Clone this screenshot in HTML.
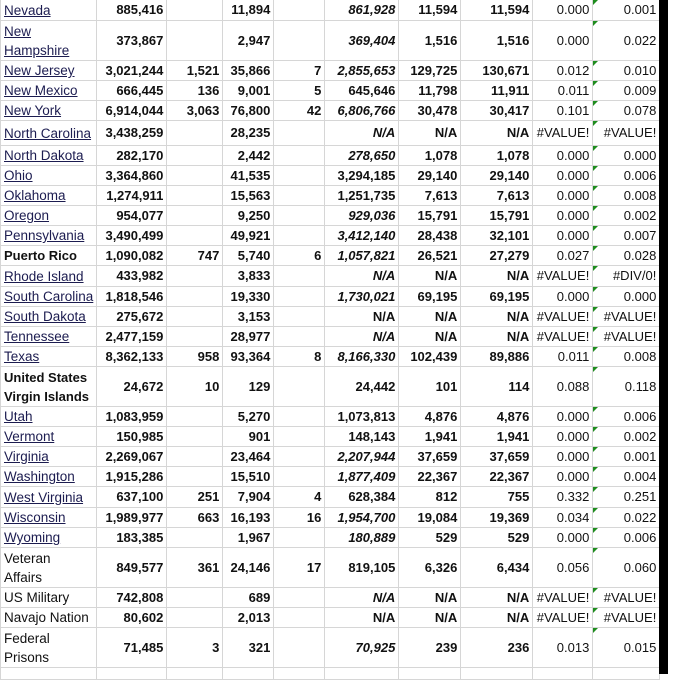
<!DOCTYPE html>
<html><head><style>
body{margin:0;background:#fff;width:682px;height:674px;overflow:hidden;position:relative;font-family:"Liberation Sans",sans-serif;}
table{border-collapse:collapse;table-layout:fixed;position:absolute;left:0;top:-1px;}
td{border:1px solid #d6d6d6;padding:0 3px 0 2px;font-size:13px;line-height:16px;font-weight:bold;text-align:right;white-space:nowrap;overflow:hidden;color:#111;position:relative;}
td.n{text-align:left;font-weight:normal;line-height:19px;padding-left:3px;font-size:13.5px;}
td.n u{color:#1c1c50;text-decoration:underline;}
td.b{text-align:left;font-weight:bold;line-height:19px;padding-left:3px;font-size:13px;}
td.i{font-style:italic;}
td.r{font-weight:normal;font-size:13px;}
td.g::before{content:"";position:absolute;left:0;top:0;border-top:5px solid #1e8c1e;border-right:5px solid transparent;}
.bar{position:absolute;left:659px;top:0;width:9px;height:674px;background:#000;}
</style></head><body>
<table>
<colgroup><col style="width:96px"><col style="width:70px"><col style="width:56px"><col style="width:51px"><col style="width:51px"><col style="width:74px"><col style="width:62px"><col style="width:72px"><col style="width:60px"><col style="width:67px"></colgroup>
<tr style="height:21px"><td class="n"><u>Nevada</u></td><td>885,416</td><td></td><td>11,894</td><td></td><td class="i">861,928</td><td>11,594</td><td>11,594</td><td class="r">0.000</td><td class="r g">0.001</td></tr>
<tr style="height:40px"><td class="n"><u>New </u><br><u>Hampshire</u></td><td>373,867</td><td></td><td>2,947</td><td></td><td class="i">369,404</td><td>1,516</td><td>1,516</td><td class="r">0.000</td><td class="r g">0.022</td></tr>
<tr style="height:20px"><td class="n"><u>New Jersey</u></td><td>3,021,244</td><td>1,521</td><td>35,866</td><td>7</td><td class="i">2,855,653</td><td>129,725</td><td>130,671</td><td class="r">0.012</td><td class="r g">0.010</td></tr>
<tr style="height:20px"><td class="n"><u>New Mexico</u></td><td>666,445</td><td>136</td><td>9,001</td><td>5</td><td>645,646</td><td>11,798</td><td>11,911</td><td class="r">0.011</td><td class="r g">0.009</td></tr>
<tr style="height:20px"><td class="n"><u>New York</u></td><td>6,914,044</td><td>3,063</td><td>76,800</td><td>42</td><td class="i">6,806,766</td><td>30,478</td><td>30,417</td><td class="r">0.101</td><td class="r g">0.078</td></tr>
<tr style="height:25px"><td class="n"><u>North Carolina</u></td><td>3,438,259</td><td></td><td>28,235</td><td></td><td class="i">N/A</td><td>N/A</td><td>N/A</td><td class="r">#VALUE!</td><td class="r g">#VALUE!</td></tr>
<tr style="height:20px"><td class="n"><u>North Dakota</u></td><td>282,170</td><td></td><td>2,442</td><td></td><td class="i">278,650</td><td>1,078</td><td>1,078</td><td class="r">0.000</td><td class="r g">0.000</td></tr>
<tr style="height:20px"><td class="n"><u>Ohio</u></td><td>3,364,860</td><td></td><td>41,535</td><td></td><td>3,294,185</td><td>29,140</td><td>29,140</td><td class="r">0.000</td><td class="r g">0.006</td></tr>
<tr style="height:20px"><td class="n"><u>Oklahoma</u></td><td>1,274,911</td><td></td><td>15,563</td><td></td><td>1,251,735</td><td>7,613</td><td>7,613</td><td class="r">0.000</td><td class="r g">0.008</td></tr>
<tr style="height:20px"><td class="n"><u>Oregon</u></td><td>954,077</td><td></td><td>9,250</td><td></td><td class="i">929,036</td><td>15,791</td><td>15,791</td><td class="r">0.000</td><td class="r g">0.002</td></tr>
<tr style="height:20px"><td class="n"><u>Pennsylvania</u></td><td>3,490,499</td><td></td><td>49,921</td><td></td><td class="i">3,412,140</td><td>28,438</td><td>32,101</td><td class="r">0.000</td><td class="r g">0.007</td></tr>
<tr style="height:20px"><td class="b">Puerto Rico</td><td>1,090,082</td><td>747</td><td>5,740</td><td>6</td><td class="i">1,057,821</td><td>26,521</td><td>27,279</td><td class="r">0.027</td><td class="r g">0.028</td></tr>
<tr style="height:21px"><td class="n"><u>Rhode Island</u></td><td>433,982</td><td></td><td>3,833</td><td></td><td class="i">N/A</td><td>N/A</td><td>N/A</td><td class="r">#VALUE!</td><td class="r g">#DIV/0!</td></tr>
<tr style="height:20px"><td class="n"><u>South Carolina</u></td><td>1,818,546</td><td></td><td>19,330</td><td></td><td class="i">1,730,021</td><td>69,195</td><td>69,195</td><td class="r">0.000</td><td class="r g">0.000</td></tr>
<tr style="height:20px"><td class="n"><u>South Dakota</u></td><td>275,672</td><td></td><td>3,153</td><td></td><td>N/A</td><td>N/A</td><td>N/A</td><td class="r">#VALUE!</td><td class="r g">#VALUE!</td></tr>
<tr style="height:20px"><td class="n"><u>Tennessee</u></td><td>2,477,159</td><td></td><td>28,977</td><td></td><td class="i">N/A</td><td>N/A</td><td>N/A</td><td class="r">#VALUE!</td><td class="r g">#VALUE!</td></tr>
<tr style="height:20px"><td class="n"><u>Texas</u></td><td>8,362,133</td><td>958</td><td>93,364</td><td>8</td><td class="i">8,166,330</td><td>102,439</td><td>89,886</td><td class="r">0.011</td><td class="r g">0.008</td></tr>
<tr style="height:40px"><td class="b">United States<br>Virgin Islands</td><td>24,672</td><td>10</td><td>129</td><td></td><td>24,442</td><td>101</td><td>114</td><td class="r">0.088</td><td class="r g">0.118</td></tr>
<tr style="height:20px"><td class="n"><u>Utah</u></td><td>1,083,959</td><td></td><td>5,270</td><td></td><td>1,073,813</td><td>4,876</td><td>4,876</td><td class="r">0.000</td><td class="r g">0.006</td></tr>
<tr style="height:20px"><td class="n"><u>Vermont</u></td><td>150,985</td><td></td><td>901</td><td></td><td>148,143</td><td>1,941</td><td>1,941</td><td class="r">0.000</td><td class="r g">0.002</td></tr>
<tr style="height:20px"><td class="n"><u>Virginia</u></td><td>2,269,067</td><td></td><td>23,464</td><td></td><td class="i">2,207,944</td><td>37,659</td><td>37,659</td><td class="r">0.000</td><td class="r g">0.001</td></tr>
<tr style="height:20px"><td class="n"><u>Washington</u></td><td>1,915,286</td><td></td><td>15,510</td><td></td><td class="i">1,877,409</td><td>22,367</td><td>22,367</td><td class="r">0.000</td><td class="r g">0.004</td></tr>
<tr style="height:21px"><td class="n"><u>West Virginia</u></td><td>637,100</td><td>251</td><td>7,904</td><td>4</td><td>628,384</td><td>812</td><td>755</td><td class="r">0.332</td><td class="r g">0.251</td></tr>
<tr style="height:20px"><td class="n"><u>Wisconsin</u></td><td>1,989,977</td><td>663</td><td>16,193</td><td>16</td><td class="i">1,954,700</td><td>19,084</td><td>19,369</td><td class="r">0.034</td><td class="r g">0.022</td></tr>
<tr style="height:20px"><td class="n"><u>Wyoming</u></td><td>183,385</td><td></td><td>1,967</td><td></td><td class="i">180,889</td><td>529</td><td>529</td><td class="r">0.000</td><td class="r g">0.006</td></tr>
<tr style="height:40px"><td class="n">Veteran<br>Affairs</td><td>849,577</td><td>361</td><td>24,146</td><td>17</td><td>819,105</td><td>6,326</td><td>6,434</td><td class="r">0.056</td><td class="r g">0.060</td></tr>
<tr style="height:20px"><td class="n">US Military</td><td>742,808</td><td></td><td>689</td><td></td><td class="i">N/A</td><td>N/A</td><td>N/A</td><td class="r">#VALUE!</td><td class="r g">#VALUE!</td></tr>
<tr style="height:20px"><td class="n">Navajo Nation</td><td>80,602</td><td></td><td>2,013</td><td></td><td>N/A</td><td>N/A</td><td>N/A</td><td class="r">#VALUE!</td><td class="r g">#VALUE!</td></tr>
<tr style="height:40px"><td class="n">Federal<br>Prisons</td><td>71,485</td><td>3</td><td>321</td><td></td><td class="i">70,925</td><td>239</td><td>236</td><td class="r">0.013</td><td class="r g">0.015</td></tr>
<tr style="height:12px"><td></td><td></td><td></td><td></td><td></td><td></td><td></td><td></td><td></td><td></td></tr>
</table>
<div class="bar"></div>
</body></html>
